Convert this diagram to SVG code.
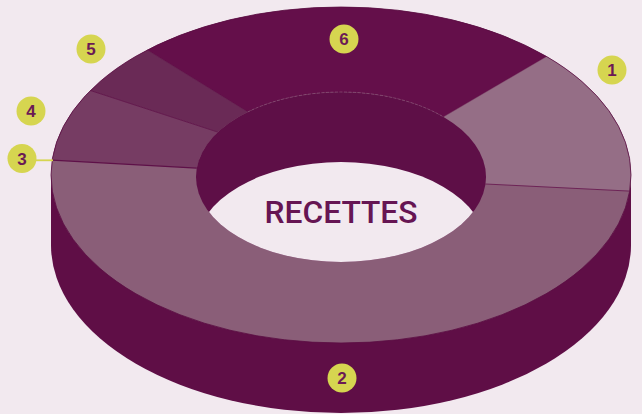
<svg xmlns="http://www.w3.org/2000/svg" width="642" height="414" viewBox="0 0 642 414">
  <defs>
    <style>
      .lbl circle { fill: #d6d550; }
      .lbl text { font-family: "Liberation Sans", Arial, sans-serif; font-weight: bold; font-size: 17px; fill: #6b1a55; text-anchor: middle; }
      .side { fill: #5f0e46; }
      .edge { fill: none; stroke: #5a0c42; stroke-width: 0.8; }
    </style>
    <clipPath id="holeClip">
      <ellipse cx="341" cy="177" rx="145" ry="85"/>
    </clipPath>
  </defs>
  <rect width="642" height="414" fill="#f2e9ef"/>

  <g id="donut">
    <!-- side wall -->
    <ellipse class="side" cx="341" cy="245" rx="290" ry="168"/>
    <rect class="side" x="51" y="175" width="580" height="70"/>
    <!-- slice 2 (base of top face) -->
    <ellipse cx="341" cy="175" rx="290" ry="168" fill="#8a5e78"/>
    <!-- slice 1 -->
    <path id="slice1" d="M 546.8,56.6 A 290 168 0 0 1 629.7,191.1 L 485.5,184 A 145 85 0 0 0 443.5,116.9 Z" fill="#956e86"/>
    <!-- slice 6 -->
    <path id="slice6" d="M 147.3,50.0 A 290 168 0 0 1 546.8,56.6 L 443.5,116.9 A 145 85 0 0 0 247.8,111.9 Z" fill="#640f4a"/>
    <!-- slice 5 -->
    <path id="slice5" d="M 90.4,90.5 A 290 168 0 0 1 147.3,50.0 L 247.8,111.9 A 145 85 0 0 0 217.9,132.1 Z" fill="#6a2a56"/>
    <!-- slice 4 -->
    <path id="slice4" d="M 52.1,160.1 A 290 168 0 0 1 90.4,90.5 L 217.9,132.1 A 145 85 0 0 0 196.8,168.1 Z" fill="#763c63"/>
    <!-- slice boundaries -->
    <line x1="52.1" y1="160.1" x2="196.8" y2="168.1" stroke="#5e1048" stroke-width="1.4"/>
    <line x1="90.4" y1="90.5" x2="217.9" y2="132.1" stroke="#5e1048" stroke-width="0.8"/>
    <line x1="147.3" y1="50.0" x2="247.8" y2="111.9" stroke="#5e1048" stroke-width="0.6"/>
    <line x1="629.7" y1="191.1" x2="485.5" y2="184" stroke="#6a1d52" stroke-width="0.9"/>
    <line x1="546.8" y1="56.6" x2="443.5" y2="116.9" stroke="#8a5e78" stroke-width="0.4"/>
    <ellipse class="edge" cx="341" cy="175" rx="290" ry="168"/>
    <!-- hole -->
    <ellipse cx="341" cy="177" rx="145" ry="85" fill="#5e0f47"/>
    <ellipse cx="341" cy="247" rx="145" ry="85" fill="#f2e9ef" clip-path="url(#holeClip)"/>
    <path d="M 247.8,111.9 A 145 85 0 0 1 443.5,116.9" fill="none" stroke="#9a6f8a" stroke-width="0.5" stroke-dasharray="3 1.5"/>
    <text x="341" y="223" font-family="Roboto, 'Liberation Sans', Arial, sans-serif" font-weight="500" font-size="31" fill="#661553" text-anchor="middle" textLength="153" lengthAdjust="spacingAndGlyphs">RECETTES</text>
  </g>

  <g id="connectors">
    <line x1="35" y1="160.3" x2="53" y2="160.3" stroke="#d6d550" stroke-width="1.8"/>
  </g>

  <g id="label1" class="lbl"><circle cx="612" cy="70" r="14.5"/><text x="612" y="76">1</text></g>
  <g id="label2" class="lbl"><circle cx="342" cy="378" r="14.5"/><text x="342" y="384">2</text></g>
  <g id="label3" class="lbl"><circle cx="22" cy="158.5" r="14.5"/><text x="22" y="164.5">3</text></g>
  <g id="label4" class="lbl"><circle cx="31" cy="111" r="14.5"/><text x="31" y="117">4</text></g>
  <g id="label5" class="lbl"><circle cx="91" cy="49" r="14.5"/><text x="91" y="55">5</text></g>
  <g id="label6" class="lbl"><circle cx="344" cy="39" r="14.5"/><text x="344" y="45">6</text></g>
</svg>
